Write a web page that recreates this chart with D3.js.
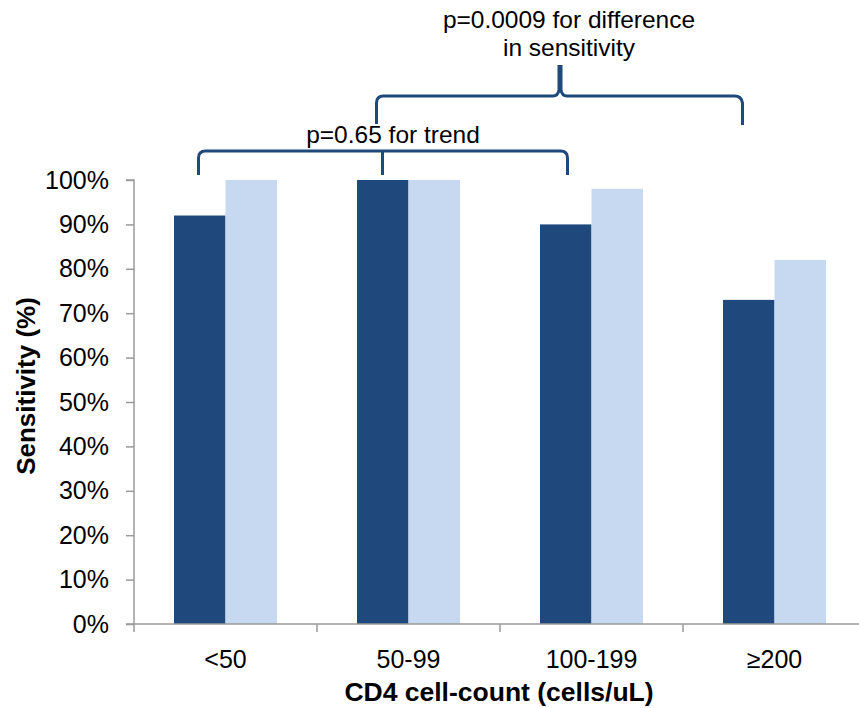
<!DOCTYPE html>
<html><head><meta charset="utf-8">
<script src="https://cdn.jsdelivr.net/npm/d3@7/dist/d3.min.js"></script>
<style>body{margin:0;background:#fff}svg{display:block}text{font-family:"Liberation Sans",Arial,sans-serif;fill:#000}</style>
</head><body><svg id="c" width="859" height="708"></svg>
<script>
const categories = ["<50", "50-99", "100-199", "\u2265200"];
const seriesDark = [92, 100, 90, 73];
const seriesLight = [100, 100, 98, 82];
const yTicks = [0,10,20,30,40,50,60,70,80,90,100];

(function(){
const svg = d3.select("#c");
const pL = 134, pR = 866, pT = 180, pB = 624;
const x = d3.scaleBand().domain(categories).range([pL, pR]).paddingInner(0).paddingOuter(0);
const y = d3.scaleLinear().domain([0, 100]).range([pB, pT]);
const inner = d3.scaleBand().domain([0,1]).range([40, x.bandwidth()-40]).padding(0);

const colors = ["#1f497d", "#c6d9f1"];
const data = categories.map((c,i)=>({c, v:[seriesDark[i], seriesLight[i]]}));
const g = svg.append("g");
data.forEach(d=>{
  d.v.forEach((v,j)=>{
    g.append("rect").attr("x", x(d.c)+inner(j)).attr("y", y(v))
     .attr("width", inner.bandwidth()).attr("height", y(0)-y(v)).attr("fill", colors[j]);
  });
});

const ya = svg.append("g").attr("transform",`translate(${pL},0)`)
  .call(d3.axisLeft(y).tickValues(yTicks).tickSize(8).tickPadding(17).tickFormat(d=>d+"%"));
ya.select(".domain").attr("stroke","#9a9a9a").attr("stroke-width",1.5).attr("d",`M-8,${y(100)}H0V${y(0)}`);
ya.selectAll(".tick line").attr("stroke","#9a9a9a").attr("stroke-width",1.5);
ya.selectAll(".tick text").attr("font-size",25).style("font-family","Liberation Sans, Arial, sans-serif");

const xa = svg.append("g").attr("transform",`translate(0,${pB})`)
  .call(d3.axisBottom(x).tickSize(0).tickPadding(26));
xa.select(".domain").attr("stroke","#9a9a9a").attr("stroke-width",1.5).attr("d",`M${pL-8},0H${pR}`);
xa.selectAll(".tick text").attr("font-size",25).style("font-family","Liberation Sans, Arial, sans-serif");
categories.forEach((c)=>{
  svg.append("line").attr("x1",x(c)).attr("x2",x(c)).attr("y1",pB).attr("y2",pB+8)
   .attr("stroke","#9a9a9a").attr("stroke-width",1.5);
});

svg.append("text").attr("x", 499).attr("y", 701).attr("text-anchor","middle")
  .attr("font-size",26.5).attr("font-weight","bold").text("CD4 cell-count (cells/uL)");
svg.append("text").attr("transform",`translate(35,386) rotate(-90)`).attr("text-anchor","middle")
  .attr("font-size",26).attr("font-weight","bold").text("Sensitivity (%)");

const bc = "#1f497d";
const bx = (c)=>x(c)+x.bandwidth()/2;
const l1 = bx(categories[0])-27, r1 = bx(categories[2])-24, m1 = bx(categories[1])-26;
svg.append("path").attr("fill","none").attr("stroke",bc).attr("stroke-width",3)
  .attr("d",`M${l1},175V158Q${l1},151 ${l1+7},151H${r1-7}Q${r1},151 ${r1},158V175 M${m1},151V175`);
const l2 = bx(categories[1])-32, r2 = bx(categories[3])-33, m2 = 560;
svg.append("path").attr("fill","none").attr("stroke",bc).attr("stroke-width",3)
  .attr("d",`M${l2},124V103Q${l2},96 ${l2+7},96H${m2-7}Q${m2-2},96 ${m2-1},90V65 M${m2+1},65V90Q${m2+2},96 ${m2+7},96H${r2-7}Q${r2},96 ${r2+1},103V125`);

svg.append("text").attr("x",393).attr("y",143).attr("text-anchor","middle").attr("font-size",24.5).text("p=0.65 for trend");
svg.append("text").attr("x",569).attr("y",28).attr("text-anchor","middle").attr("font-size",24.5).text("p=0.0009 for difference");
svg.append("text").attr("x",569).attr("y",56).attr("text-anchor","middle").attr("font-size",24.5).text("in sensitivity");
})();
</script></body></html>
